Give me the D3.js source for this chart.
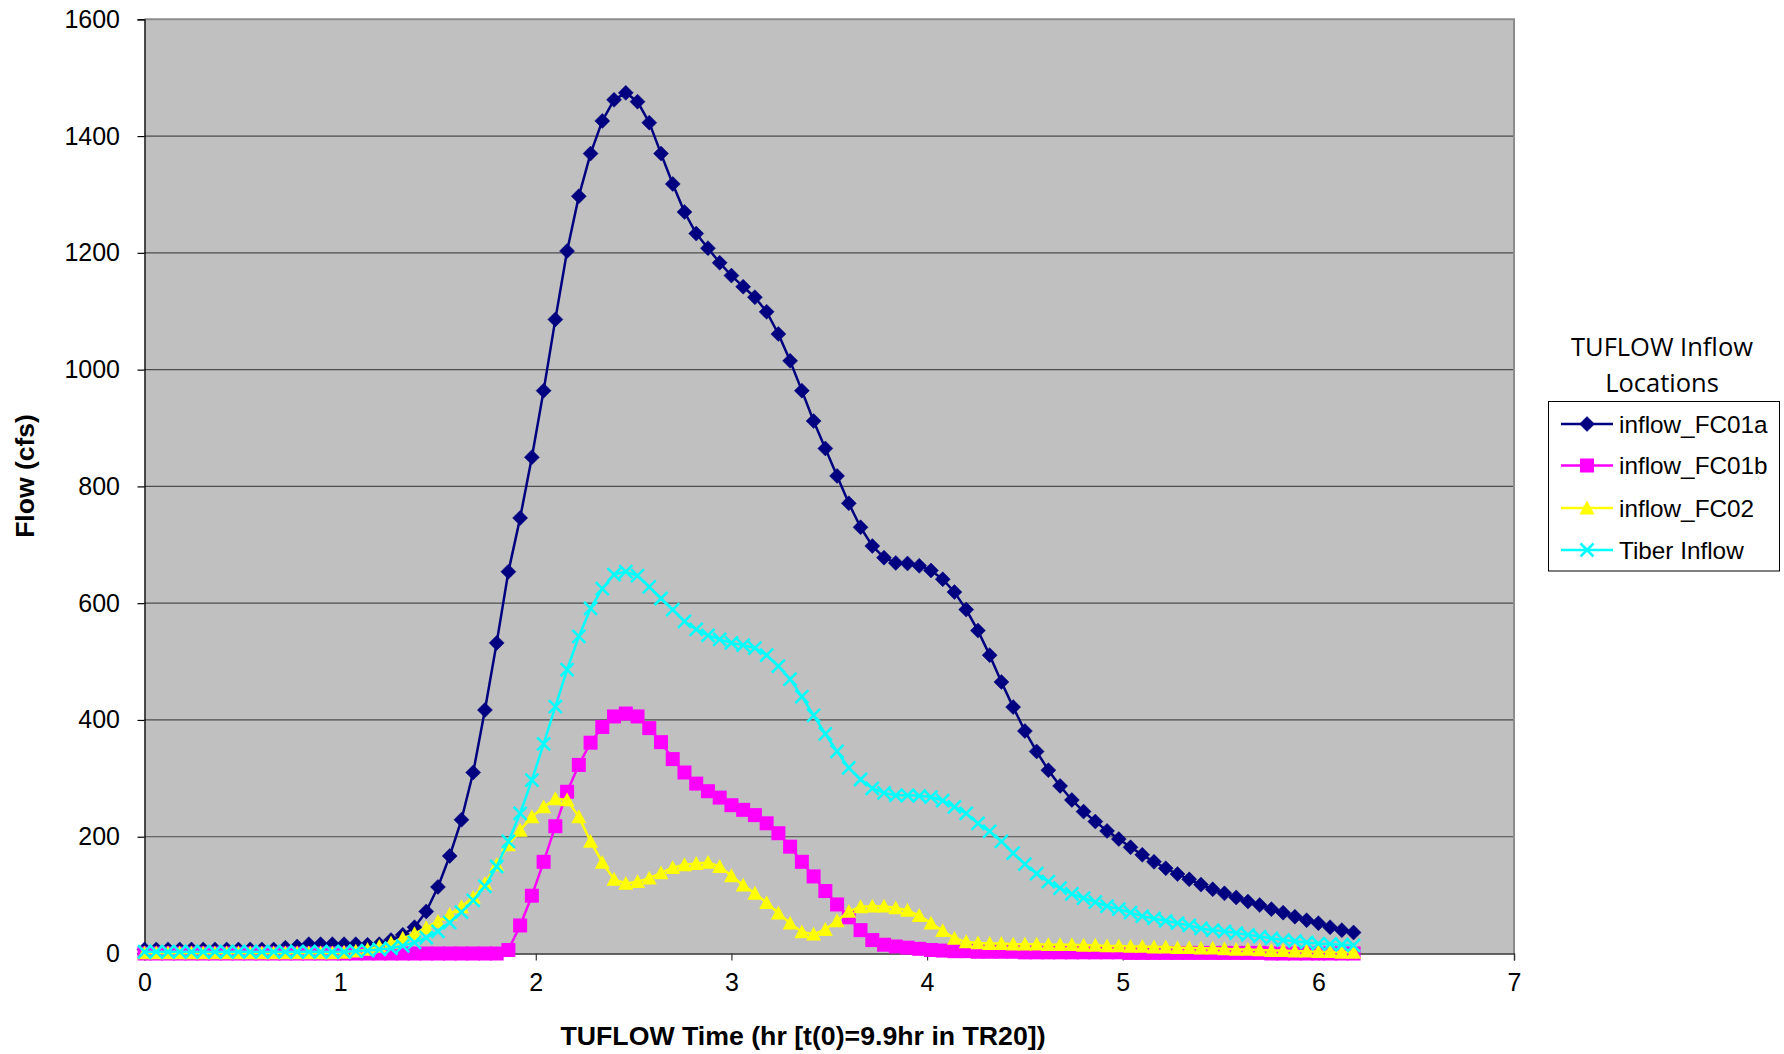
<!DOCTYPE html>
<html><head><meta charset="utf-8">
<script src="https://cdn.jsdelivr.net/npm/d3@7"></script>
<style>html,body{margin:0;padding:0;background:#fff;}svg{display:block;}</style>
</head><body>
<script>
const time = [0,0.06,0.12,0.18,0.24,0.3,0.36,0.42,0.48,0.54,
0.6,0.66,0.72,0.78,0.84,0.9,0.96,1.02,1.08,1.14,
1.2,1.26,1.32,1.38,1.44,1.5,1.56,1.62,1.68,1.74,
1.8,1.86,1.92,1.98,2.04,2.1,2.16,2.22,2.28,2.34,
2.4,2.46,2.52,2.58,2.64,2.7,2.76,2.82,2.88,2.94,
3,3.06,3.12,3.18,3.24,3.3,3.36,3.42,3.48,3.54,
3.6,3.66,3.72,3.78,3.84,3.9,3.96,4.02,4.08,4.14,
4.2,4.26,4.32,4.38,4.44,4.5,4.56,4.62,4.68,4.74,
4.8,4.86,4.92,4.98,5.04,5.1,5.16,5.22,5.28,5.34,
5.4,5.46,5.52,5.58,5.64,5.7,5.76,5.82,5.88,5.94,
6,6.06,6.12,6.18];

const inflowFC01a = [7,7,7,7,7,7,7,7,7,7,
7,7,10,12,16,16,16,16,16,15,
16,23,32,45,72,114,167,229,310,417,
532,654,746,850,964,1086,1203,1297,1370,1426,
1462,1474,1459,1423,1370,1318,1270,1233,1208,1183,
1161,1142,1124,1099,1061,1015,964,912,865,818,
771,730,698,678,669,668,664,656,641,619,
589,553,511,465,422,381,346,314,287,263,
243,226,210,196,182,169,157,146,136,127,
118,110,103,96,89,83,76,70,63,57,
52,45,40,36];

const inflowFC01b = [0,0,0,0,0,0,0,0,0,0,
0,0,0,0,0,0,0,0,0,0,
0,0,0,0,0,0,0,0,0,0,
0,6,48,99,157,218,277,323,361,388,
406,411,406,386,362,333,310,291,278,267,
254,246,237,223,206,183,157,132,107,84,
62,40,23,15,12,10,8,6,5,4,
4,3,3,3,3,2,2,2,2,2,
2,2,2,2,1,1,1,1,1,1,
1,1,1,1,1,1,0,0,0,0,
0,0,0,0];

const inflowFC02 = [1,1,1,1,1,1,1,1,1,1,
1,1,1,1,1,1,1,2,4,7,
12,18,26,34,44,55,67,80,96,120,
152,186,211,234,251,265,263,234,192,156,
127,120,123,129,138,147,152,154,156,149,
133,117,103,87,69,52,37,33,41,56,
72,80,81,81,78,74,65,52,39,26,
20,18,17,17,16,16,16,15,15,15,
14,14,13,13,12,12,11,11,10,10,
9,9,8,7,7,6,5,5,4,4,
3,3,2,2];

const tiberInflow = [3,3,3,3,3,3,3,3,3,3,
3,3,3,3,3,3,3,3,4,5,
7,9,13,19,27,38,53,71,91,115,
149,192,240,297,359,423,486,543,591,625,
649,654,647,628,608,589,569,555,545,538,
532,528,523,511,492,470,440,408,376,346,
318,298,283,275,271,271,270,268,262,251,
240,223,209,192,172,153,137,123,112,102,
95,88,81,76,70,64,60,56,52,48,
43,40,38,35,32,29,26,23,21,19,
17,16,15,14];

const seriesNames = ["inflow_FC01a","inflow_FC01b","inflow_FC02","Tiber Inflow"];
const seriesValues = [inflowFC01a, inflowFC01b, inflowFC02, tiberInflow];
const seriesColors = ["#000080","#FF00FF","#FFFF00","#00FFFF"];
const seriesMarkers = ["diamond","square","triangle","x"];
const yTicks = [0,200,400,600,800,1000,1200,1400,1600];
const xTicks = [0,1,2,3,4,5,6,7];
const xTitle = "TUFLOW Time (hr [t(0)=9.9hr in TR20])";
const yTitle = "Flow (cfs)";
const legendTitle = ["TUFLOW Inflow","Locations"];

const W = 1784, H = 1054;
const plot = {left:144.5, right:1514, top:19.3, bottom:953.5};

const svg = d3.select("body").append("svg").attr("width",W).attr("height",H);
svg.append("rect").attr("width",W).attr("height",H).attr("fill","#fff");

const x = d3.scaleLinear().domain([0,7]).range([plot.left, plot.right]);
const y = d3.scaleLinear().domain([0,1600]).range([plot.bottom, plot.top]);

// plot background
svg.append("rect").attr("x",plot.left).attr("y",plot.top)
  .attr("width",plot.right-plot.left).attr("height",plot.bottom-plot.top)
  .attr("fill","#C0C0C0");

// gridlines
svg.append("g").selectAll("line").data(yTicks.filter(d=>d>0 && d<1600)).join("line")
  .attr("x1",plot.left).attr("x2",plot.right)
  .attr("y1",d=>y(d)).attr("y2",d=>y(d))
  .attr("stroke","#4d4d4d").attr("stroke-width",1.2);

// top and right border
svg.append("path")
  .attr("d",`M${plot.left},${plot.top}H${plot.right}V${plot.bottom}`)
  .attr("fill","none").attr("stroke","#8c8c8c").attr("stroke-width",2);

const fontMain = "Liberation Sans, Arial, sans-serif";

// y axis
const yAxis = d3.axisLeft(y).tickValues(yTicks).tickSize(7).tickPadding(17.5).tickFormat(d3.format("d"));
const gy = svg.append("g").attr("transform",`translate(${plot.left},0)`).call(yAxis);
gy.select(".domain").attr("stroke","#000").attr("stroke-width",1.3);
gy.selectAll(".tick line").attr("stroke","#000").attr("stroke-width",1.2);
gy.selectAll(".tick text").attr("font-family",fontMain)
  .attr("font-size",25).attr("fill","#000");

// x axis
const xAxis = d3.axisBottom(x).tickValues(xTicks).tickSize(7).tickPadding(13).tickFormat(d3.format("d"));
const gx = svg.append("g").attr("transform",`translate(0,${plot.bottom})`).call(xAxis);
gx.select(".domain").attr("stroke","#333").attr("stroke-width",1.3);
gx.selectAll(".tick line").attr("stroke","#333").attr("stroke-width",1.2);
gx.selectAll(".tick text").attr("font-family",fontMain)
  .attr("font-size",25).attr("fill","#000");

// axis titles
svg.append("text").attr("x",803).attr("y",1045)
  .attr("text-anchor","middle").attr("font-family",fontMain)
  .attr("font-weight","bold").attr("font-size",26.7).text(xTitle);
svg.append("text").attr("transform","translate(34,476) rotate(-90)")
  .attr("text-anchor","middle").attr("font-family",fontMain)
  .attr("font-weight","bold").attr("font-size",26.5).text(yTitle);

// marker drawing
function drawMarker(g, type, color, cx, cy, scale) {
  const s = scale || 1;
  if (type === "diamond") {
    const r = 7.5*s;
    g.append("path").attr("d",`M${cx},${cy-r}L${cx+r},${cy}L${cx},${cy+r}L${cx-r},${cy}Z`)
      .attr("fill",color).attr("stroke",color).attr("stroke-width",0.5);
  } else if (type === "square") {
    const h = 7*s;
    g.append("rect").attr("x",cx-h).attr("y",cy-h).attr("width",2*h).attr("height",2*h)
      .attr("fill",color);
  } else if (type === "triangle") {
    const h = 7.5*s;
    g.append("path").attr("d",`M${cx},${cy-h}L${cx+h},${cy+h*0.85}L${cx-h},${cy+h*0.85}Z`)
      .attr("fill",color);
  } else if (type === "x") {
    const h = 6.5*s;
    g.append("path").attr("d",`M${cx-h},${cy-h}L${cx+h},${cy+h}M${cx-h},${cy+h}L${cx+h},${cy-h}`)
      .attr("stroke",color).attr("stroke-width",2.5).attr("fill","none");
  }
}

const line = d3.line().x(d=>x(d[0])).y(d=>y(d[1]));
seriesValues.forEach((vals, si) => {
  const pts = time.map((t,i)=>[t, vals[i]]);
  const g = svg.append("g");
  g.append("path").datum(pts).attr("d",line).attr("fill","none")
    .attr("stroke",seriesColors[si]).attr("stroke-width",2.5).attr("stroke-linejoin","round");
  pts.forEach(p => drawMarker(g, seriesMarkers[si], seriesColors[si], x(p[0]), y(p[1])));
});

// legend
const lg = svg.append("g");
lg.selectAll("text.lt").data(legendTitle).join("text").attr("class","lt")
  .attr("x",1662).attr("y",(d,i)=>356+i*36).attr("text-anchor","middle")
  .attr("font-family","Open Sans, sans-serif").attr("font-size",25.5).attr("fill","#000")
  .text(d=>d);
lg.append("rect").attr("x",1548.5).attr("y",401.5).attr("width",231).attr("height",169.5)
  .attr("fill","#fff").attr("stroke","#000").attr("stroke-width",1);
const legY = [424, 465.5, 508, 550];
seriesNames.forEach((name, i) => {
  const cy = legY[i];
  lg.append("line").attr("x1",1561).attr("x2",1613).attr("y1",cy).attr("y2",cy)
    .attr("stroke",seriesColors[i]).attr("stroke-width",2.5);
  drawMarker(lg, seriesMarkers[i], seriesColors[i], 1587, cy);
  lg.append("text").attr("x",1619).attr("y",cy+8.5)
    .attr("font-family",fontMain).attr("font-size",24.3).attr("fill","#000")
    .text(name);
});
</script>
</body></html>
